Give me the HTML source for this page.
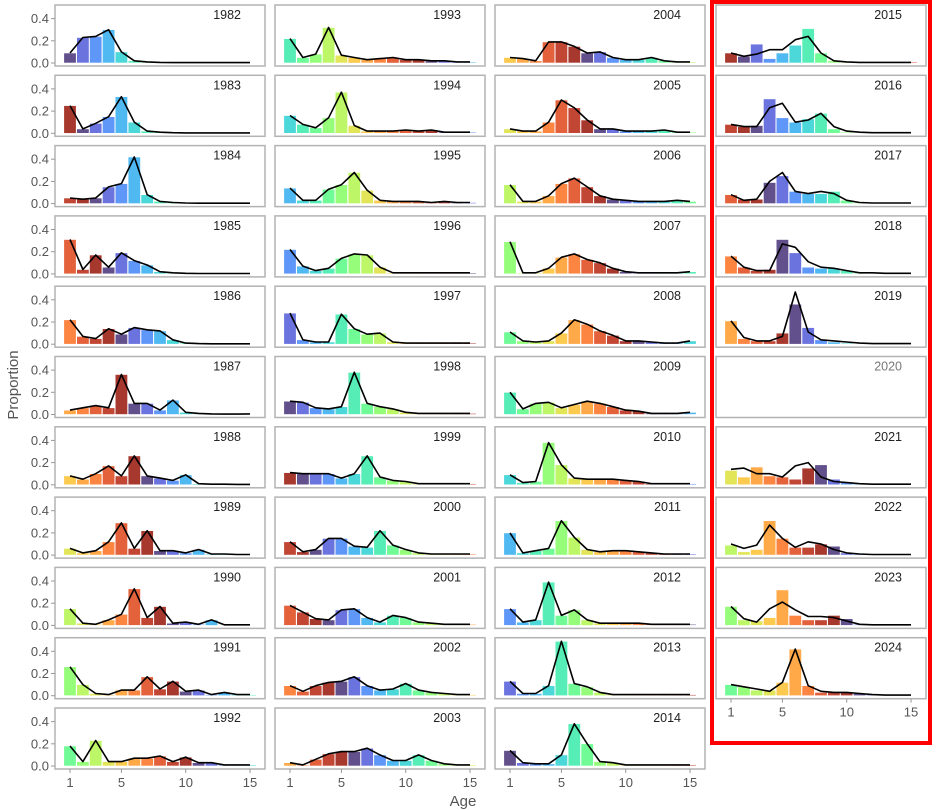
<!DOCTYPE html>
<html><head><meta charset="utf-8"><style>
html,body{margin:0;padding:0;background:#fff;}
svg{display:block;font-family:"Liberation Sans",sans-serif;}
</style></head><body>
<svg id="s" width="936" height="810" xmlns="http://www.w3.org/2000/svg"></svg>
<script>
const D={
1982:[.09,.23,.24,.30,.10,.02,.01,.005,0,0,0,0,0,0,0],
1983:[.25,.04,.09,.15,.33,.10,.02,.01,.005,0,0,0,0,0,0],
1984:[.05,.04,.05,.15,.18,.42,.08,.02,.01,.005,0,0,0,0,0],
1985:[.31,.04,.17,.06,.19,.12,.08,.02,.01,.005,0,0,0,0,0],
1986:[.22,.07,.05,.14,.09,.15,.13,.12,.04,.01,.005,0,0,0,0],
1987:[.04,.06,.08,.06,.36,.10,.10,.04,.13,.02,.01,.005,0,0,.005],
1988:[.08,.05,.10,.17,.08,.26,.08,.06,.04,.09,.01,.005,.005,0,0],
1989:[.06,.02,.04,.12,.29,.06,.22,.04,.04,.02,.05,.01,.01,.005,.005],
1990:[.15,.02,.01,.05,.10,.33,.07,.17,.02,.03,.01,.05,.005,.005,.005],
1991:[.26,.10,.02,.01,.05,.05,.17,.06,.13,.04,.05,.01,.03,.01,.01],
1992:[.18,.04,.23,.04,.04,.07,.07,.09,.04,.08,.03,.03,.01,.01,.01],
1993:[.22,.05,.08,.32,.07,.05,.03,.04,.05,.03,.03,.02,.02,.01,.01],
1994:[.16,.08,.05,.14,.37,.07,.02,.02,.02,.03,.02,.03,.01,.01,.01],
1995:[.14,.03,.03,.13,.17,.28,.12,.03,.02,.02,.02,.01,.02,.01,.01],
1996:[.22,.07,.03,.05,.14,.18,.17,.06,.01,.01,.01,.01,.01,.01,.01],
1997:[.28,.04,.02,.02,.27,.14,.09,.10,.02,.01,.01,.01,.01,.01,.01],
1998:[.12,.11,.06,.05,.07,.38,.10,.07,.05,.02,.01,.01,.01,.01,.01],
1999:[.11,.10,.10,.10,.06,.10,.26,.07,.04,.03,.01,.01,.01,.01,.01],
2000:[.12,.03,.05,.15,.15,.08,.07,.22,.09,.05,.02,.01,.01,.01,.01],
2001:[.18,.12,.06,.05,.14,.15,.07,.03,.09,.07,.03,.02,.01,.01,.01],
2002:[.09,.04,.09,.12,.13,.17,.09,.05,.06,.11,.05,.03,.02,.01,.01],
2003:[.03,.01,.06,.11,.13,.13,.16,.10,.05,.05,.10,.05,.02,.01,.01],
2004:[.05,.04,.02,.19,.19,.15,.09,.10,.05,.03,.03,.05,.02,.01,.01],
2005:[.04,.02,.02,.10,.30,.23,.12,.04,.04,.02,.02,.02,.03,.01,.01],
2006:[.17,.02,.02,.07,.18,.23,.15,.07,.04,.03,.02,.02,.02,.03,.02],
2007:[.29,.01,.01,.05,.15,.18,.13,.10,.05,.02,.01,.01,.01,.01,.02],
2008:[.11,.03,.02,.03,.10,.22,.18,.12,.08,.03,.03,.02,.01,.01,.03],
2009:[.20,.05,.10,.11,.06,.09,.12,.10,.07,.04,.03,.01,.01,.01,.02],
2010:[.09,.02,.03,.38,.18,.06,.05,.05,.05,.04,.03,.01,.01,.01,.01],
2011:[.20,.02,.04,.06,.31,.16,.05,.03,.04,.04,.03,.02,.01,.01,.01],
2012:[.15,.03,.05,.39,.09,.14,.05,.02,.02,.02,.02,.01,.01,.01,.01],
2013:[.13,.02,.02,.09,.49,.11,.08,.03,.01,.01,.01,.01,.01,.01,.01],
2014:[.14,.03,.02,.02,.10,.38,.20,.04,.03,.01,.01,.01,.01,.01,.01],
2015:[.09,.06,.17,.04,.09,.16,.31,.09,.02,.01,.005,.005,.005,.005,.01],
2016:[.08,.06,.07,.31,.14,.10,.13,.18,.04,.01,.005,.005,0,0,0],
2017:[.08,.04,.04,.19,.25,.11,.09,.09,.11,.03,.01,.005,.005,0,.005],
2018:[.16,.06,.03,.04,.31,.19,.06,.05,.05,.03,.01,.005,0,0,0],
2019:[.21,.05,.03,.03,.10,.36,.15,.04,.02,.01,.005,0,0,0,0],
2020:null,
2021:[.13,.07,.16,.08,.07,.05,.15,.18,.05,.02,.01,.005,0,0,0],
2022:[.09,.03,.05,.31,.15,.07,.07,.10,.08,.02,.01,.005,0,0,0],
2023:[.17,.05,.04,.07,.32,.09,.05,.05,.09,.06,.01,.005,0,0,0],
2024:[.10,.08,.05,.05,.12,.42,.09,.03,.03,.03,.02,.01,.005,0,0]
};
const L={
2015:[.09,.06,.08,.12,.12,.21,.24,.09,.02,.01,.005,.005,.005,.005,.005],
2016:[.08,.06,.06,.23,.27,.10,.12,.18,.06,.02,.01,.005,.005,.005,.005],
2017:[.08,.03,.04,.20,.28,.11,.09,.11,.09,.03,.01,.005,.005,.005,.005],
2018:[.16,.06,.03,.03,.27,.24,.11,.06,.05,.03,.01,.01,.005,.005,.005],
2019:[.21,.06,.03,.03,.07,.47,.11,.04,.03,.02,.01,.005,.005,.005,.005],
2021:[.14,.15,.10,.10,.07,.17,.20,.07,.03,.02,.01,.005,.005,.005,.005],
2022:[.10,.06,.09,.27,.15,.07,.12,.10,.05,.02,.01,.005,.005,.005,.005],
2023:[.17,.06,.03,.15,.21,.14,.08,.08,.07,.04,.01,.005,.005,.005,.005],
2024:[.10,.08,.06,.04,.12,.42,.09,.04,.03,.03,.02,.01,.005,.005,.005]
};
function turbo(t){
 const r=0.13572138+t*(4.61539260+t*(-42.66032258+t*(132.13108234+t*(-152.94239396+t*59.28637943))));
 const g=0.09140261+t*(2.19418839+t*(4.84296658+t*(-14.18503333+t*(4.27729857+t*2.82956604))));
 const b=0.10667330+t*(12.64194608+t*(-60.58204836+t*(110.36276771+t*(-89.90310912+t*27.34824973))));
 const c=v=>Math.max(0,Math.min(255,Math.round(v*255)));
 return `rgb(${c(r)},${c(g)},${c(b)})`;
}
function col(cohort){let o=((cohort-2014)%16+16)%16;return turbo(1-(o+0.5)/16);}
const lefts=[55,275,495,716];
let h='';
const PX=12.86,PY=111;
for(let y=1982;y<=2024;y++){
 let ci,ri;
 if(y<=2014){ci=Math.floor((y-1982)/11);ri=(y-1982)%11;}else{ci=3;ri=y-2015;}
 const Lx=lefts[ci],T=5+ri*70.3,B=T+58;
 h+=`<rect x="${Lx}" y="${T}" width="210" height="61" fill="#fff" stroke="#b3b3b3" stroke-width="1.5"/>`;
 const d=D[y];
 if(d){
  d.forEach((v,i)=>{if(v<=0)return;const a=i+1;const cx=Lx+15+(a-1)*PX;
   h+=`<rect x="${(cx-6.2).toFixed(1)}" y="${(B-v*PY).toFixed(1)}" width="12.4" height="${(v*PY).toFixed(1)}" fill="${col(y-a)}" fill-opacity="0.82" stroke="#fff" stroke-width="0.6"/>`;});
  const ld=L[y]||d.map(v=>Math.max(v,0.004));
  h+=`<polyline fill="none" stroke="#000" stroke-width="1.6" stroke-linejoin="round" points="${ld.map((v,i)=>(Lx+15+i*PX).toFixed(1)+','+(B-v*PY).toFixed(1)).join(' ')}"/>`;
 }
 h+=`<text x="${Lx+186}" y="${T+14}" font-size="12.5" text-anchor="end" fill="${y==2020?'#777':'#222'}">${y}</text>`;
 if(ci==0){
  [0,.2,.4].forEach(v=>{const yy=B-v*PY;h+=`<line x1="51" x2="55" y1="${yy}" y2="${yy}" stroke="#999"/><text x="49" y="${yy+4.5}" font-size="13" text-anchor="end" fill="#555">${v.toFixed(1)}</text>`;});
 }
 if(ri==10||y==2024){
  [1,5,10,15].forEach(a=>{const x=Lx+15+(a-1)*PX;h+=`<line x1="${x}" x2="${x}" y1="${T+61}" y2="${T+65}" stroke="#999"/><text x="${x}" y="${T+79}" font-size="13" text-anchor="middle" fill="#555">${a}</text>`;});
 }
}
h+=`<text x="463" y="806" font-size="15" text-anchor="middle" fill="#555">Age</text>`;
h+=`<text transform="translate(18,385) rotate(-90)" font-size="15" text-anchor="middle" fill="#555">Proportion</text>`;
h+=`<rect x="712" y="2" width="218" height="741" fill="none" stroke="#ff0000" stroke-width="4"/>`;
document.getElementById('s').innerHTML=h;
</script>
</body></html>
